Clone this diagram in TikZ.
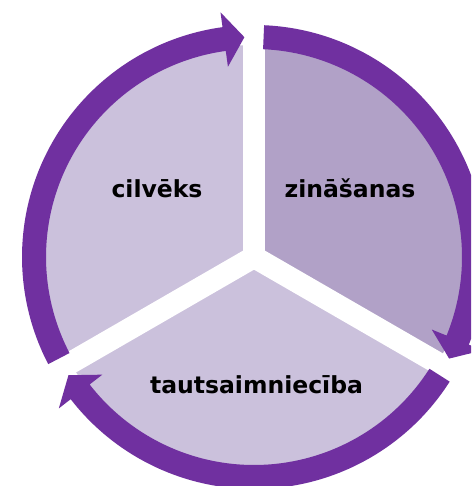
\documentclass[tikz,border=0pt]{standalone}
\usepackage{fontspec}
\setmainfont{DejaVu Sans}
\definecolor{ringpurple}{HTML}{7030A0}
\definecolor{pielight}{HTML}{CBC1DC}
\definecolor{piedark}{HTML}{B1A1C7}
\begin{document}
\begin{tikzpicture}[x=1pt,y=1pt,
    lbl/.style={anchor=base,font=\fontsize{23.5}{28}\selectfont\bfseries},
    gapline/.style={white,line width=22}]
\useasboundingbox (-254,-229) rectangle (217,257);
\clip (-254,-229) rectangle (217,257);
\fill[white] (-254,-229) rectangle (217,257);

\fill[pielight] (0,0) -- (90:212) arc[start angle=90,end angle=210,radius=212] -- cycle;
\fill[piedark] (0,0) -- (-30:212) arc[start angle=-30,end angle=90,radius=212] -- cycle;
\fill[pielight] (0,0) -- (210:212) arc[start angle=210,end angle=330,radius=212] -- cycle;
\foreach \g in {90,-30,210}
    \draw[gapline] (0,0) -- (\g:245);

\foreach \s/\e in {207.5/92.5, 87.5/-27.5, -32.5/-147.5} {
    \pgfmathsetmacro\h{\e+5.3}
    \fill[ringpurple] (\s:232) arc[start angle=\s,end angle=\h,radius=232]
        -- (\h:247) -- (\e:220) -- (\h:192) -- (\h:208)
        arc[start angle=\h,end angle=\s,radius=208] -- cycle;
}

\node (cv) [lbl] at (-97,59) {cilvēks};
\node (zn) [lbl] at (96,59) {zināšanas};
\node (ts) [lbl] at (2.5,-136) {tautsaimniecība};
\end{tikzpicture}
\end{document}
